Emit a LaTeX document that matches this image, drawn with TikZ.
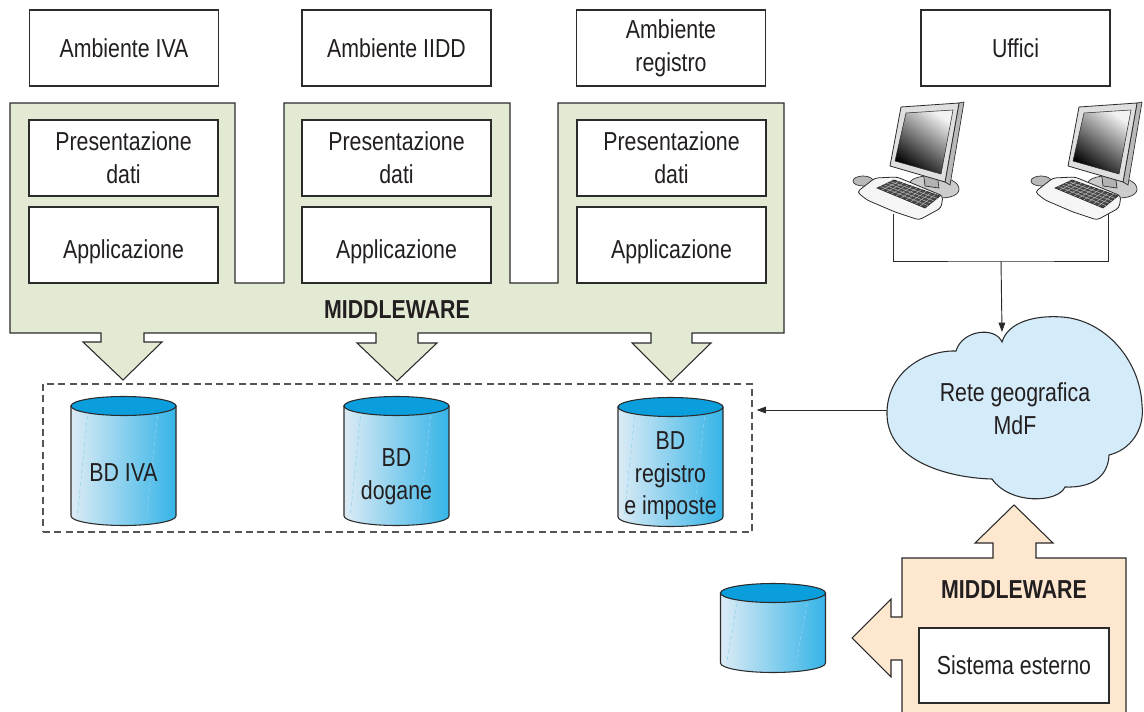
\documentclass[tikz,border=0pt]{standalone}
\usepackage{fontspec}
\setmainfont[FakeStretch=0.82]{Liberation Sans}
\usetikzlibrary{arrows.meta,calc}

\definecolor{ink}{HTML}{231F20}
\definecolor{strk}{HTML}{2B2B2B}
\definecolor{mwgreen}{HTML}{E2EAD3}
\definecolor{mwpeach}{HTML}{FDE8CF}
\definecolor{cloudfill}{HTML}{D4EBF9}
\definecolor{dbtop}{HTML}{0A9EDC}
\definecolor{dblight}{HTML}{DCEBF5}
\definecolor{dbdark}{HTML}{35B4E7}
\definecolor{dbline}{HTML}{8FD2F0}
\definecolor{dashgray}{HTML}{555555}

\tikzset{
  txt/.style={font=\fontsize{19.5}{24.5}\selectfont, text=ink, align=center, inner sep=0pt},
  box/.style={txt, draw=strk, line width=0.8pt, fill=white,
    minimum width={189*0.75pt}, minimum height={76*0.75pt}},
  mwlabel/.style={font=\bfseries\fontsize{19.5}{24.5}\selectfont, text=ink, inner sep=0pt},
  mwshape/.style={draw=strk, line width=0.8pt, line join=miter},
  link/.style={draw=strk, line width=0.7pt},
  tip/.style={-{Triangle[length=7pt,width=5pt]}},
  % database cylinder; the argument is the height of the side wall
  pics/dbcyl/.style={code={
    \shadedraw[left color=dblight, right color=dbdark, draw=strk, line width=0.8pt]
      (-52.5,0) -- (-52.5,#1) arc[start angle=180, end angle=0, x radius=52.5, y radius=9.5]
      -- (52.5,0) -- cycle;
    \draw[dbline, line width=0.4pt, dash pattern=on 3pt off 2pt] (-36,10) -- (-46,#1-2);
    \draw[dbline, line width=0.4pt, dash pattern=on 3pt off 2pt] (34,10) -- (23,#1+1);
    \filldraw[fill=dbtop, draw=strk, line width=0.8pt] (0,0) ellipse[x radius=52.5, y radius=9.5];
  }},
  pc/.pic={
    % mouse
    \filldraw[fill=gray!55, draw=strk, line width=0.5pt] (18,81) ellipse[x radius=10, y radius=5];
    % stand base and neck
    \filldraw[fill=gray!40, draw=strk, line width=0.5pt]
      (64,84) .. controls (66,74) and (100,72) .. (112,84)
      .. controls (118,92) and (110,98) .. (96,98)
      .. controls (80,98) and (62,94) .. (64,84) -- cycle;
    \filldraw[fill=gray!60, draw=strk, line width=0.5pt] (78,70) -- (92,74) -- (94,88) -- (80,86) -- cycle;
    % monitor
    \filldraw[fill=gray!55, draw=strk, line width=0.5pt] (114,3) -- (119,2) -- (105,85) -- (100,82) -- cycle;
    \filldraw[fill=gray!25, draw=strk, line width=0.6pt] (56,7) -- (114,3) -- (100,82) -- (45,66) -- cycle;
    \shade[top color=gray!10, bottom color=black, shading angle=-35]
      (61,13) -- (108,10) -- (96,74) -- (50,61) -- cycle;
    \draw[strk, line width=0.4pt] (61,13) -- (108,10) -- (96,74) -- (50,61) -- cycle;
    % keyboard
    \filldraw[fill=gray!8, draw=strk, line width=0.6pt, rounded corners=2.5pt]
      (12,92) -- (30,78) -- (52,77) -- (98,96) -- (96,108) -- (74,120) -- (50,112) -- (22,100) -- cycle;
    \coordinate (k1) at (32,88); \coordinate (k2) at (49,80);
    \coordinate (k3) at (95,96); \coordinate (k4) at (80,108);
    \filldraw[fill=black!72, draw=strk, line width=0.5pt] (k1) -- (k2) -- (k3) -- (k4) -- cycle;
    \foreach \t in {0.2,0.4,0.6,0.8}
      \draw[gray!45, line width=0.3pt] ($(k1)!\t!(k2)$) -- ($(k4)!\t!(k3)$);
    \foreach \t in {0.1,0.2,...,0.9}
      \draw[gray!45, line width=0.3pt] ($(k1)!\t!(k4)$) -- ($(k2)!\t!(k3)$);
  },
}

\begin{document}
\begin{tikzpicture}[x=0.75pt, y=-0.75pt]
\useasboundingbox (0,0) rectangle (1144,712);
\fill[white] (0,0) rectangle (1144,712);

% middleware layer shared by the three environments
\path[mwshape, fill=mwgreen]
  (10,103) -- (235,103) -- (235,283) -- (284,283) -- (284,103) -- (510,103) -- (510,283)
  -- (558,283) -- (558,103) -- (784,103) -- (784,333)
  -- (692,333) -- (692,343) -- (711,343) -- (671,382) -- (632,343) -- (651,343) -- (651,333)
  -- (418,333) -- (418,343) -- (437,343) -- (397,381) -- (357,343) -- (376,343) -- (376,333)
  -- (144,333) -- (144,342) -- (162,342) -- (123,380) -- (83,342) -- (101,342) -- (101,333)
  -- (10,333) -- cycle;
\node[mwlabel] (mw1) at (397,310) {MIDDLEWARE};

% environments
\node[box] (envIVA) at (124,48) {Ambiente IVA};
\node[box] (envIIDD) at (396.5,48) {Ambiente IIDD};
\node[box] (envReg) at (671,48) {Ambiente\\registro};
\node[box] (uffici) at (1015.5,48) {Uffici};

\node[box] (pres1) at (123.5,158) {Presentazione\\dati};
\node[box] (pres2) at (396.5,158) {Presentazione\\dati};
\node[box] (pres3) at (671.5,158) {Presentazione\\dati};
\node[box, text height=20pt, text depth=0pt] (app1) at (123.5,245) {Applicazione};
\node[box, text height=20pt, text depth=0pt] (app2) at (396.5,245) {Applicazione};
\node[box, text height=20pt, text depth=0pt] (app3) at (671.5,245) {Applicazione};

% databases
\node[draw=dashgray, line width=0.9pt, dash pattern=on 5.25pt off 3.2pt,
  minimum width={709*0.75pt}, minimum height={148*0.75pt}, inner sep=0pt] (dbbox) at (397.5,458) {};
\pic at (123.5,406) {dbcyl=110};
\pic at (396.5,406) {dbcyl=110};
\pic at (670.5,407) {dbcyl=110};
\node[txt] (bd1) at (123.5,473) {BD IVA};
\node[txt] (bd2) at (396.5,477) {BD\\dogane};
\node[txt] (bd3) at (670.5,476) {BD\\registro\\e imposte};

% office workstations
\pic at (845,100) {pc};
\pic at (1023,100) {pc};
\coordinate (pc1) at (893,214);
\coordinate (pc2) at (1108,214);
\coordinate (hub) at (1001,261);

% geographic network
\path[fill=cloudfill, draw=strk, line width=0.8pt]
  (1002,342) .. controls (1008,322) and (1035,315) .. (1062,317)
  .. controls (1105,320) and (1140,360) .. (1142,405)
  .. controls (1145,430) and (1130,450) .. (1109,455)
  .. controls (1108,478) and (1090,488) .. (1065,487)
  .. controls (1058,503) and (1010,505) .. (992,479)
  .. controls (950,478) and (888,462) .. (887,415)
  .. controls (886,372) and (925,350) .. (956,351)
  .. controls (962,330) and (995,326) .. (1002,342) -- cycle;
\node[txt] (net) at (1015,409) {Rete geografica\\MdF};
\coordinate (netTop) at (1002,332);
\coordinate (netW) at (887,410);

\draw[link] (pc1) |- (hub) -| (pc2);
\draw[link, tip] (hub) -- (netTop);
\draw[link, tip] (netW) -- ($(dbbox.east |- netW)+(4,0)$);

% external system
\fill[mwpeach]
  (902,713) -- (902,660) -- (891,660) -- (891,677) -- (852,638) -- (891,599) -- (891,617)
  -- (902,617) -- (902,558) -- (993,558) -- (993,543) -- (975,543) -- (1014,505) -- (1053,543)
  -- (1036,543) -- (1036,558) -- (1126,558) -- (1126,713) -- cycle;
\draw[mwshape]
  (902,713) -- (902,660) -- (891,660) -- (891,677) -- (852,638) -- (891,599) -- (891,617)
  -- (902,617) -- (902,558) -- (993,558) -- (993,543) -- (975,543) -- (1014,505) -- (1053,543)
  -- (1036,543) -- (1036,558) -- (1126,558) -- (1126,713);
\node[mwlabel] (mw2) at (1014,590) {MIDDLEWARE};
\node[box, minimum width={190*0.75pt}, minimum height={75*0.75pt}] (ext) at (1014,665.5) {Sistema esterno};
\pic at (773,593) {dbcyl=70};
\end{tikzpicture}
\end{document}
